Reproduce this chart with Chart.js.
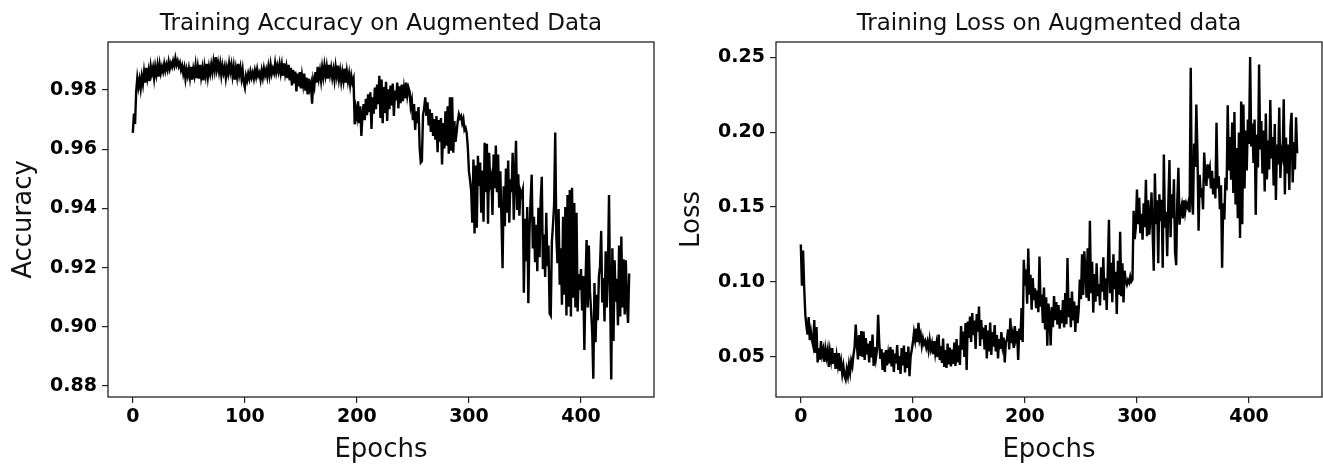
<!DOCTYPE html>
<html>
<head>
<meta charset="utf-8">
<script src="https://cdn.jsdelivr.net/npm/chart.js@4.4.0/dist/chart.umd.min.js"></script>
<style>
  body { margin: 0; background: #fff; }
  .panel { position: absolute; top: 0; }
  canvas { display: block; }
</style>
</head>
<body>
<div class="panel" style="left:0px"><canvas id="accChart" width="660" height="467"></canvas></div>
<div class="panel" style="left:660px"><canvas id="lossChart" width="663" height="467"></canvas></div>
<script>
// training accuracy per epoch (0..443)
const accuracy = [
  0.9655, 0.972, 0.9685, 0.9795, 0.984, 0.981, 0.9835, 0.9805, 0.9845, 0.982,
  0.986, 0.9825, 0.9875, 0.984, 0.9865, 0.983, 0.988, 0.9855, 0.9875, 0.984,
  0.9878, 0.9852, 0.9882, 0.9845, 0.9885, 0.9858, 0.9878, 0.9862, 0.9888, 0.9865,
  0.9885, 0.9868, 0.9895, 0.9872, 0.989, 0.9878, 0.9898, 0.9882, 0.9907, 0.9885,
  0.9898, 0.988, 0.9892, 0.9868, 0.9882, 0.9855, 0.9875, 0.9838, 0.9868, 0.9848,
  0.9872, 0.9842, 0.9878, 0.9835, 0.987, 0.9848, 0.9882, 0.984, 0.9875, 0.9838,
  0.9885, 0.9845, 0.9872, 0.9832, 0.9878, 0.985, 0.9888, 0.9845, 0.9878, 0.9855,
  0.9885, 0.986, 0.9895, 0.9868, 0.9911, 0.987, 0.9892, 0.9862, 0.9888, 0.985,
  0.9882, 0.9858, 0.9878, 0.9842, 0.9875, 0.9855, 0.989, 0.9862, 0.9885, 0.9848,
  0.9878, 0.9835, 0.9872, 0.9845, 0.9888, 0.9852, 0.9875, 0.984, 0.9868, 0.9825,
  0.9808, 0.9848, 0.9832, 0.9855, 0.9838, 0.9862, 0.9842, 0.9858, 0.9838, 0.9865,
  0.9845, 0.987, 0.9848, 0.9858, 0.9835, 0.9865, 0.9842, 0.9872, 0.985, 0.9868,
  0.9845, 0.9878, 0.985, 0.9885, 0.9855, 0.9872, 0.9858, 0.989, 0.986, 0.9882,
  0.9862, 0.9888, 0.9858, 0.9885, 0.9848, 0.989, 0.9855, 0.9878, 0.984, 0.9885,
  0.9832, 0.9875, 0.9815, 0.9868, 0.9822, 0.9862, 0.9795, 0.9855, 0.9812, 0.986,
  0.9805, 0.9848, 0.9818, 0.9855, 0.9798, 0.9842, 0.9785, 0.9838, 0.9805, 0.9822,
  0.9754, 0.9832, 0.9812, 0.986, 0.9825, 0.9878, 0.984, 0.9865, 0.9832, 0.9875,
  0.9845, 0.9882, 0.985, 0.9878, 0.9838, 0.9885, 0.9852, 0.9875, 0.9842, 0.9868,
  0.9835, 0.9878, 0.9848, 0.9882, 0.9838, 0.9865, 0.9828, 0.986, 0.9832, 0.9872,
  0.9825, 0.9862, 0.983, 0.9855, 0.9818, 0.9848, 0.9825, 0.9838, 0.9684, 0.9735,
  0.971, 0.9762, 0.9688, 0.9745, 0.9645, 0.9718, 0.9752, 0.9698, 0.977, 0.9715,
  0.9785, 0.9725, 0.9792, 0.9668, 0.9775, 0.972, 0.9808, 0.9735, 0.9818, 0.9752,
  0.9848, 0.9705, 0.9835, 0.9688, 0.981, 0.9722, 0.9828, 0.9695, 0.9802, 0.9735,
  0.9815, 0.9748, 0.9822, 0.9712, 0.9798, 0.9765, 0.9825, 0.9738, 0.9812, 0.9755,
  0.9818, 0.9762, 0.9805, 0.9772, 0.9825, 0.9782, 0.9808, 0.9795, 0.9745, 0.9765,
  0.9698, 0.9752, 0.9665, 0.9728, 0.9688, 0.9742, 0.9605, 0.9555, 0.956, 0.9715,
  0.9738, 0.9775, 0.9712, 0.9758, 0.968, 0.9735, 0.9658, 0.9722, 0.9645, 0.9702,
  0.9632, 0.9712, 0.959, 0.9698, 0.9625, 0.9705, 0.9548, 0.9688, 0.9602, 0.9728,
  0.9612, 0.9745, 0.9585, 0.9775, 0.9595, 0.9775, 0.9588, 0.9695, 0.9625, 0.9658,
  0.9695, 0.9718, 0.9705, 0.9712, 0.9688, 0.9702, 0.9665, 0.9672, 0.9655, 0.9605,
  0.9525, 0.9495, 0.9458, 0.9352, 0.9565, 0.9315, 0.9545, 0.9335, 0.9578, 0.9475,
  0.9555, 0.9385, 0.9528, 0.9355, 0.9622, 0.9455, 0.9618, 0.9348, 0.9588, 0.9485,
  0.9505, 0.9378, 0.9582, 0.9468, 0.9612, 0.9455, 0.9582, 0.9402, 0.9525, 0.9365,
  0.9198, 0.9475, 0.934, 0.9535, 0.9385, 0.9562, 0.9352, 0.9498, 0.9455, 0.9588,
  0.9362, 0.9508, 0.9628, 0.9395, 0.9515, 0.9375, 0.9458, 0.9445, 0.9462, 0.9115,
  0.9365, 0.9222, 0.9405, 0.908, 0.9318, 0.9428, 0.9514, 0.9265, 0.9372, 0.9218,
  0.9345, 0.9188, 0.9402, 0.9235, 0.9428, 0.9507, 0.9195, 0.9312, 0.9168, 0.9385,
  0.9205, 0.9275, 0.9045, 0.9038, 0.9288, 0.9345, 0.9412, 0.9656, 0.9305, 0.9215,
  0.9398, 0.9142, 0.9265, 0.9075, 0.9372, 0.9108, 0.9405, 0.9038, 0.9445, 0.9068,
  0.9462, 0.9035, 0.947, 0.9098, 0.9418, 0.9065, 0.9385, 0.9052, 0.9178, 0.9125,
  0.9195, 0.9055, 0.9172, 0.8922, 0.9148, 0.9293, 0.9065, 0.9275, 0.9118, 0.9055,
  0.8982, 0.8825, 0.9148, 0.8948, 0.9108, 0.9022, 0.9172, 0.9205, 0.9324, 0.9082,
  0.9165, 0.9018, 0.9255, 0.9065, 0.9188, 0.9445, 0.9098, 0.8822, 0.9265, 0.8952,
  0.9225, 0.9085, 0.9162, 0.9005, 0.9275, 0.9035, 0.9305, 0.9065, 0.9228, 0.9042,
  0.9225, 0.9075, 0.9013, 0.918
];

// training loss per epoch (0..443)
const loss = [
  0.125, 0.0975, 0.121, 0.0965, 0.0782, 0.0705, 0.0648, 0.0765, 0.0612, 0.0668,
  0.061, 0.0575, 0.0745, 0.0525, 0.0698, 0.0462, 0.0558, 0.048, 0.0605, 0.0512,
  0.0548, 0.0465, 0.0552, 0.0498, 0.0545, 0.0432, 0.0535, 0.0478, 0.0558, 0.0452,
  0.0525, 0.0418, 0.0505, 0.0448, 0.0525, 0.0405, 0.0462, 0.0385, 0.0438, 0.0372,
  0.0348, 0.0415, 0.0372, 0.0448, 0.0395, 0.0472, 0.0438, 0.0512, 0.0565, 0.0715,
  0.0585, 0.0482, 0.0645, 0.0505, 0.0672, 0.0498, 0.0668, 0.0478, 0.0625, 0.0515,
  0.0588, 0.0462, 0.0605, 0.0495, 0.0648, 0.0438, 0.0565, 0.0488, 0.0545, 0.078,
  0.0595, 0.0485, 0.0552, 0.0412, 0.0528, 0.0398, 0.0545, 0.0442, 0.0518, 0.0455,
  0.0565, 0.0435, 0.0548, 0.0398, 0.0522, 0.0455, 0.0578, 0.0412, 0.0505, 0.0385,
  0.0558, 0.0442, 0.0575, 0.0395, 0.0532, 0.0425, 0.0568, 0.037, 0.0502, 0.0545,
  0.0595, 0.0662, 0.0612, 0.0688, 0.0598, 0.0727, 0.0615, 0.0648, 0.0575, 0.0622,
  0.0585, 0.0605, 0.0562, 0.0598, 0.0545, 0.0612, 0.0552, 0.0588, 0.0518, 0.0605,
  0.0525, 0.0582, 0.0498, 0.0648, 0.0478, 0.0572, 0.0458, 0.0622, 0.0432, 0.0545,
  0.0425, 0.0588, 0.0448, 0.0562, 0.0435, 0.0548, 0.0452, 0.0595, 0.0438, 0.0618,
  0.0462, 0.0575, 0.0445, 0.0705, 0.0548, 0.0668, 0.0498, 0.0725, 0.0412, 0.0735,
  0.0625, 0.0768, 0.0598, 0.0792, 0.0645, 0.0742, 0.0552, 0.0785, 0.0668, 0.0836,
  0.0572, 0.0745, 0.0618, 0.0695, 0.0548, 0.0712, 0.0488, 0.0675, 0.0535, 0.0728,
  0.0512, 0.0665, 0.0568, 0.0712, 0.0535, 0.0645, 0.0488, 0.0618, 0.0552, 0.0665,
  0.0575, 0.0628, 0.0462, 0.0598, 0.0615, 0.0682, 0.0548, 0.0757, 0.0592, 0.0645,
  0.0558, 0.0705, 0.0625, 0.0672, 0.0478, 0.0688, 0.0612, 0.0826, 0.0598, 0.1148,
  0.0975, 0.1085, 0.0855, 0.1223, 0.0915, 0.1048, 0.0815, 0.1025, 0.0878, 0.0958,
  0.0825, 0.0942, 0.0798, 0.117, 0.0835, 0.0915, 0.0725, 0.0962, 0.0682, 0.0898,
  0.0573, 0.0855, 0.0778, 0.0575, 0.0832, 0.0698, 0.0905, 0.0745, 0.0865, 0.0715,
  0.0845, 0.0688, 0.0812, 0.0725, 0.0878, 0.0695, 0.0925, 0.0718, 0.116, 0.0765,
  0.0892, 0.0698, 0.0935, 0.0742, 0.0868, 0.0665, 0.0842, 0.0725, 0.0812, 0.1015,
  0.0885, 0.1185, 0.0912, 0.1205, 0.1078, 0.0895, 0.1225, 0.0872, 0.1408, 0.0925,
  0.1135, 0.0795, 0.1052, 0.0868, 0.1125, 0.0905, 0.0985, 0.0842, 0.1098, 0.0935,
  0.1165, 0.0878, 0.1025, 0.0812, 0.1095, 0.1415, 0.0925, 0.1128, 0.0865, 0.1185,
  0.0952, 0.1068, 0.0785, 0.1142, 0.0915, 0.1335, 0.0905, 0.1125, 0.0862, 0.1075,
  0.1005, 0.0982, 0.1012, 0.0995, 0.1035, 0.1002, 0.1015, 0.1475, 0.1285, 0.1365,
  0.1618, 0.1385, 0.1562, 0.1325, 0.1455, 0.1282, 0.1525, 0.1365, 0.1682, 0.1305,
  0.1545, 0.1315, 0.1425, 0.1598, 0.1328, 0.1074, 0.1725, 0.1385, 0.1545, 0.1125,
  0.1585, 0.1405, 0.1548, 0.1095, 0.1852, 0.1362, 0.1468, 0.1172, 0.1525, 0.1815,
  0.1298, 0.1585, 0.1425, 0.1685, 0.1198, 0.1112, 0.1545, 0.1762, 0.1382, 0.1478,
  0.1515, 0.1425, 0.1545, 0.1468, 0.1525, 0.1502, 0.1535, 0.1465, 0.2431, 0.1552,
  0.145, 0.1925, 0.1768, 0.2186, 0.1865, 0.1342, 0.1715, 0.1565, 0.1625, 0.1485,
  0.1865, 0.1712, 0.1642, 0.1785, 0.1728, 0.1765, 0.1625, 0.1742, 0.1585, 0.1692,
  0.1558, 0.2063, 0.1625, 0.1705, 0.1485, 0.1645, 0.1094, 0.1525, 0.1418, 0.1695,
  0.1612, 0.218, 0.1745, 0.1968, 0.1682, 0.2065, 0.1595, 0.2135, 0.1518, 0.1895,
  0.1425, 0.1998, 0.1294, 0.2205, 0.1385, 0.2185, 0.1625, 0.2012, 0.1745, 0.2085,
  0.1922, 0.2503, 0.1905, 0.2058, 0.1795, 0.2085, 0.1448, 0.1985, 0.1765, 0.2453,
  0.1885, 0.2075, 0.1725, 0.2012, 0.1605, 0.2125, 0.1685, 0.1945, 0.1752, 0.2215,
  0.1825, 0.1968, 0.1645, 0.2055, 0.1548, 0.1918, 0.1785, 0.2165, 0.1695, 0.1872,
  0.1835, 0.222, 0.1585, 0.1965, 0.1725, 0.1918, 0.1615, 0.2035, 0.213, 0.1665,
  0.1935, 0.1752, 0.21, 0.186
];

const epochTicks = [0, 100, 200, 300, 400];
const accTicks = [0.88, 0.90, 0.92, 0.94, 0.96, 0.98];
const lossTicks = [0.05, 0.10, 0.15, 0.20, 0.25];

// frame round the plot area + title centred over it (matplotlib style)
const frameAndTitle = {
  id: 'frameAndTitle',
  afterDraw(chart, args, opts) {
    const ctx = chart.ctx;
    const a = chart.chartArea;
    ctx.save();
    ctx.strokeStyle = '#222';
    ctx.lineWidth = 1.3;
    ctx.strokeRect(a.left, a.top, a.right - a.left, a.bottom - a.top);
    ctx.fillStyle = '#111';
    ctx.font = '23px "DejaVu Sans"';
    ctx.textAlign = 'center';
    ctx.textBaseline = 'alphabetic';
    ctx.fillText(opts.text, (a.left + a.right) / 2, 30);
    ctx.restore();
  }
};

function makeTheChart(id, values, title, yLabel, yTicks, yMin, yMax, axisWidth, rightPad, labelPad) {
  const ctx = document.getElementById(id).getContext('2d');
  const tickFont = { family: 'DejaVu Sans', weight: 'bold', size: 19 };
  const labelFont = { family: 'DejaVu Sans', size: 26 };
  return new Chart(ctx, {
    type: 'line',
    data: {
      datasets: [{
        data: values.map((v, i) => ({ x: i, y: v })),
        borderColor: '#000',
        borderWidth: 2.4,
        pointRadius: 0,
        tension: 0,
        fill: false
      }]
    },
    options: {
      responsive: false,
      animation: false,
      devicePixelRatio: 1,
      layout: { padding: { top: 42, right: rightPad, left: 0, bottom: 0 } },
      plugins: {
        legend: { display: false },
        tooltip: { enabled: false },
        frameAndTitle: { text: title }
      },
      scales: {
        x: {
          type: 'linear',
          min: -22.15,
          max: 465.15,
          afterBuildTicks: s => { s.ticks = epochTicks.map(v => ({ value: v })); },
          afterFit: s => { s.height = 70; },
          border: { display: false },
          grid: { drawOnChartArea: false, tickLength: 6, color: '#222', lineWidth: 1.2 },
          ticks: { color: '#000', font: tickFont, padding: 3, maxRotation: 0 },
          title: { display: true, text: 'Epochs', color: '#111', font: labelFont, padding: { bottom: 1 } }
        },
        y: {
          min: yMin,
          max: yMax,
          afterBuildTicks: s => { s.ticks = yTicks.map(v => ({ value: v })); },
          afterFit: s => { s.width = axisWidth; },
          border: { display: false },
          grid: { drawOnChartArea: false, tickLength: 6, color: '#222', lineWidth: 1.2 },
          ticks: { color: '#000', font: tickFont, padding: 5, callback: v => v.toFixed(2) },
          title: { display: true, text: yLabel, color: '#111', font: labelFont, padding: { top: labelPad } }
        }
      }
    },
    plugins: [frameAndTitle]
  });
}

makeTheChart('accChart', accuracy, 'Training Accuracy on Augmented Data', 'Accuracy',
  accTicks, 0.8763, 0.9962, 108, 6, 9);
makeTheChart('lossChart', loss, 'Training Loss on Augmented data', 'Loss',
  lossTicks, 0.0231, 0.2603, 116, 1, 17);
</script>
</body>
</html>
